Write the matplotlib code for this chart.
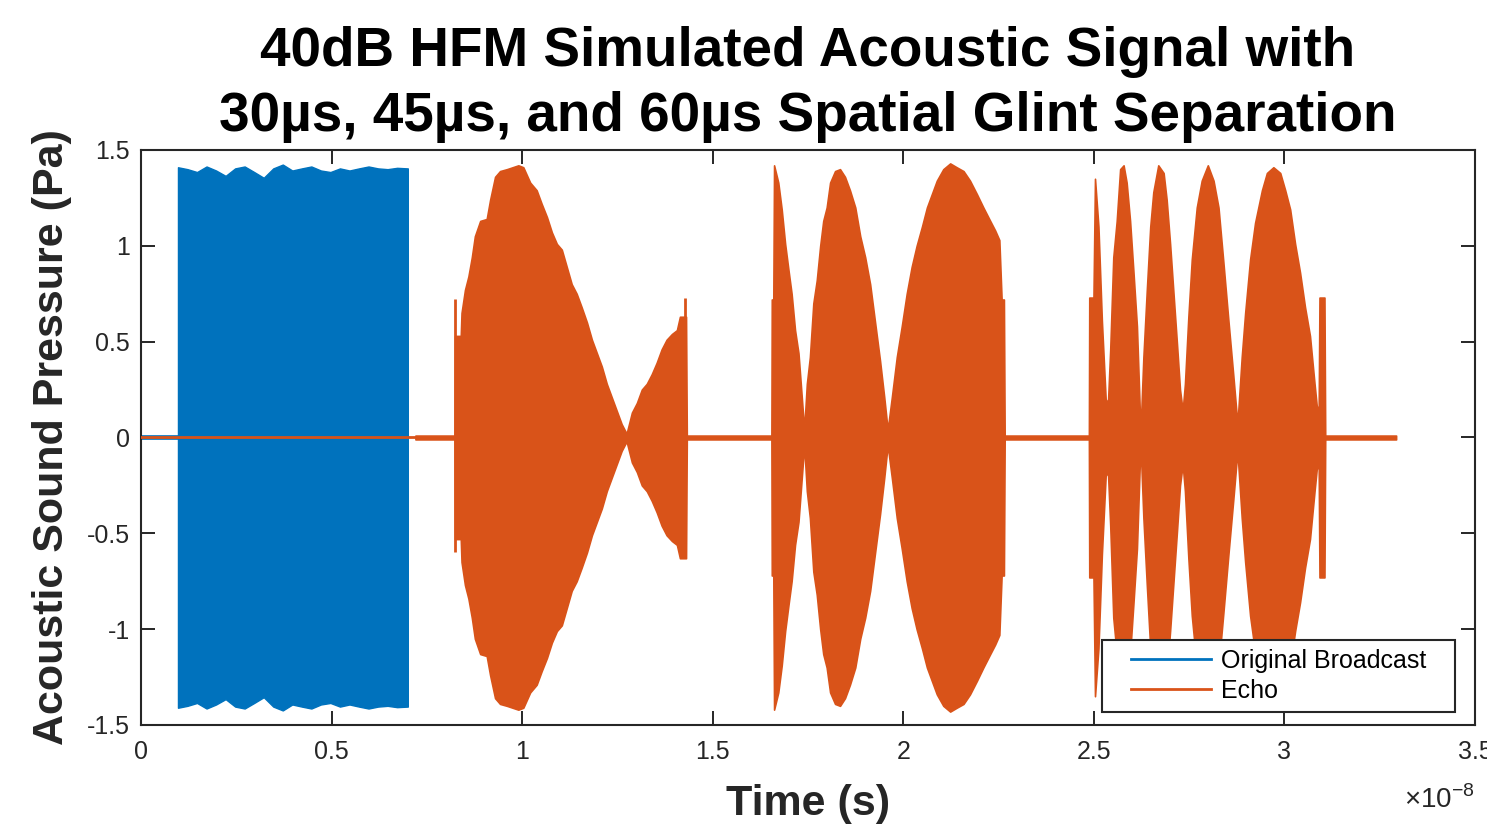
import matplotlib
matplotlib.use("Agg")
import matplotlib.pyplot as plt
from matplotlib.lines import Line2D
from matplotlib.patches import Rectangle
from matplotlib.ticker import FuncFormatter, MultipleLocator

# ── data (time in units of 1e-8 s, pressure in Pa) ────────────────────────────

T_UNIT = 1e-8
NOISE_AMP = 0.010

# original broadcast: noise floor, then the constant-amplitude HFM sweep
bcast_noise_t = [0.0, 0.097]
bcast_t = [0.097, 0.122, 0.147, 0.172, 0.197, 0.222, 0.247, 0.272, 0.297,
           0.322, 0.347, 0.372, 0.397, 0.422, 0.447, 0.472, 0.497, 0.522,
           0.547, 0.572, 0.597, 0.622, 0.647, 0.672, 0.700]
bcast_amp = [1.41, 1.40, 1.385, 1.414, 1.393, 1.365, 1.404, 1.414, 1.385,
             1.355, 1.404, 1.424, 1.393, 1.404, 1.414, 1.393, 1.385, 1.404,
             1.393, 1.404, 1.414, 1.404, 1.40, 1.407, 1.404]

# echo: zero-padded part, then envelope of the three glint groups
echo_zero_t = [0.0, 0.72]
echo_t = [
    # noise floor + group 1
    0.720, 0.823, 0.824, 0.833, 0.839, 0.841, 0.850, 0.859, 0.868, 0.876,
    0.890, 0.907, 0.916, 0.929, 0.942, 0.960, 0.990, 1.003, 1.021, 1.038,
    1.051, 1.065, 1.078, 1.091, 1.104, 1.117, 1.130, 1.143, 1.156, 1.170,
    1.183, 1.196, 1.209, 1.222, 1.235, 1.248, 1.261, 1.274, 1.288, 1.301,
    1.314, 1.327, 1.340, 1.353, 1.366, 1.379, 1.393, 1.406, 1.414, 1.425,
    1.430, 1.432,
    # noise floor + group 2
    1.654, 1.655, 1.659, 1.661, 1.672, 1.681, 1.690, 1.699, 1.707, 1.716,
    1.725, 1.734, 1.740, 1.747, 1.755, 1.764, 1.773, 1.782, 1.790, 1.799,
    1.808, 1.821, 1.834, 1.847, 1.860, 1.874, 1.887, 1.900, 1.913, 1.926,
    1.939, 1.950, 1.959, 1.970, 1.983, 1.996, 2.009, 2.022, 2.035, 2.049,
    2.062, 2.075, 2.088, 2.105, 2.123, 2.140, 2.158, 2.175, 2.193, 2.210,
    2.228, 2.241, 2.252, 2.258, 2.264, 2.266,
    # noise floor + group 3
    2.487, 2.488, 2.499, 2.503, 2.512, 2.521, 2.531, 2.537, 2.543, 2.551,
    2.560, 2.569, 2.578, 2.586, 2.595, 2.604, 2.613, 2.621, 2.624, 2.630,
    2.639, 2.648, 2.656, 2.669, 2.683, 2.691, 2.700, 2.709, 2.718, 2.726,
    2.733, 2.739, 2.748, 2.757, 2.770, 2.783, 2.799, 2.814, 2.827, 2.840,
    2.853, 2.866, 2.875, 2.878, 2.888, 2.897, 2.910, 2.923, 2.941, 2.954,
    2.971, 2.989, 3.002, 3.015, 3.028, 3.041, 3.054, 3.067, 3.079, 3.085,
    3.090, 3.092, 3.105, 3.107,
    # trailing noise floor
    3.293,
]
echo_amp = [
    0.010, 0.010, 0.53, 0.53, 0.53, 0.65, 0.77, 0.84, 0.94, 1.05,
    1.13, 1.14, 1.24, 1.36, 1.39, 1.40, 1.42, 1.41, 1.33, 1.29,
    1.22, 1.15, 1.07, 1.01, 0.98, 0.89, 0.80, 0.75, 0.68, 0.60,
    0.51, 0.44, 0.37, 0.28, 0.21, 0.14, 0.07, 0.02, 0.13, 0.18,
    0.25, 0.28, 0.33, 0.39, 0.46, 0.51, 0.54, 0.56, 0.63, 0.63,
    0.63, 0.010,
    0.010, 0.72, 0.72, 1.42, 1.33, 1.19, 1.01, 0.87, 0.75, 0.56,
    0.44, 0.20, 0.04, 0.28, 0.42, 0.70, 0.82, 1.00, 1.13, 1.20,
    1.33, 1.39, 1.40, 1.36, 1.29, 1.20, 1.05, 0.94, 0.80, 0.60,
    0.40, 0.21, 0.04, 0.21, 0.42, 0.58, 0.75, 0.89, 1.00, 1.10,
    1.20, 1.27, 1.34, 1.40, 1.43, 1.41, 1.39, 1.34, 1.27, 1.20,
    1.13, 1.08, 1.03, 0.72, 0.72, 0.010,
    0.010, 0.73, 0.73, 1.35, 1.10, 0.61, 0.20, 0.18, 0.46, 0.94,
    1.13, 1.40, 1.42, 1.33, 1.13, 0.86, 0.58, 0.11, 0.11, 0.42,
    0.77, 1.10, 1.28, 1.42, 1.38, 1.24, 1.01, 0.75, 0.49, 0.25,
    0.14, 0.28, 0.63, 0.93, 1.20, 1.34, 1.42, 1.34, 1.20, 0.91,
    0.61, 0.32, 0.11, 0.11, 0.42, 0.65, 0.93, 1.12, 1.29, 1.38,
    1.41, 1.38, 1.29, 1.19, 1.01, 0.86, 0.68, 0.53, 0.28, 0.16,
    0.16, 0.73, 0.73, 0.010,
    0.010,
]

# single-sample spikes at the edges of the first glint group
spike_t = [0.824, 1.427]
spike_lo = [-0.60, -0.62]
spike_hi = [0.72, 0.73]

labels = ["Original Broadcast", "Echo"]
title = ("40dB HFM Simulated Acoustic Signal with\n"
         "30\u00b5s, 45\u00b5s, and 60\u00b5s Spatial Glint Separation")

# ── style ─────────────────────────────────────────────────────────────────────

BLUE = "#0072BD"
ORANGE = "#D95319"
INK = "#262626"

plt.rcParams["font.family"] = ["Liberation Sans", "DejaVu Sans"]
plt.rcParams["mathtext.fontset"] = "custom"
plt.rcParams["mathtext.rm"] = "Liberation Sans"

W, H = 1487, 826
fig = plt.figure(figsize=(W / 100, H / 100), dpi=100)
ax = fig.add_axes([141 / W, 1 - 725 / H, 1334 / W, 575 / H])


def sec(ts):
    return [t * T_UNIT for t in ts]


# broadcast
ax.fill_between(sec(bcast_noise_t), -NOISE_AMP, NOISE_AMP,
                color=BLUE, lw=1.2, zorder=2)
ax.fill_between(sec(bcast_t), [-a for a in bcast_amp], bcast_amp,
                color=BLUE, lw=1.0, zorder=2)

# echo
ax.plot(sec(echo_zero_t), [0, 0], color=ORANGE, lw=2.0, zorder=3)
ax.fill_between(sec(echo_t), [-a for a in echo_amp], echo_amp,
                color=ORANGE, lw=1.2, zorder=3)
ax.vlines(sec(spike_t), spike_lo, spike_hi, color=ORANGE, lw=2.0, zorder=3)

# ── axes ──────────────────────────────────────────────────────────────────────

ax.set_xlim(0, 3.5 * T_UNIT)
ax.set_ylim(-1.5, 1.5)
ax.xaxis.set_major_locator(MultipleLocator(0.5 * T_UNIT))
ax.yaxis.set_major_locator(MultipleLocator(0.5))
ax.xaxis.set_major_formatter(FuncFormatter(lambda v, p: f"{v / T_UNIT:g}"))
ax.yaxis.set_major_formatter(FuncFormatter(lambda v, p: f"{v:g}"))

ax.tick_params(direction="in", length=10, width=1.4, top=True, right=True,
               labelsize=18, color=INK, labelcolor=INK)
ax.tick_params(axis="x", pad=11)
ax.tick_params(axis="y", pad=8)
for s in ax.spines.values():
    s.set_linewidth(1.5)
    s.set_color(INK)

ax.set_title(title, fontsize=39.5, fontweight="bold", pad=14, linespacing=1.32)
ax.set_xlabel("Time (s)", fontsize=31, fontweight="bold", color=INK)
ax.set_ylabel("Acoustic Sound Pressure (Pa)", fontsize=31, fontweight="bold",
              color=INK)
ax.xaxis.set_label_coords(0.5, -0.102)
ax.yaxis.set_label_coords(-0.052, 0.5)

ax.text(1.0, -0.13, r"$\times10^{-8}$", transform=ax.transAxes,
        ha="right", va="center", fontsize=20, color=INK)

# legend with a white box drawn over the traces
box = Rectangle((0.7204, 0.0226), 0.2646, 0.1252, transform=ax.transAxes,
                facecolor="white", edgecolor=INK, lw=1.5, zorder=5)
ax.add_patch(box)
handles = [Line2D([], [], color=BLUE, lw=2), Line2D([], [], color=ORANGE, lw=2)]
leg = ax.legend(handles, labels, loc="center", bbox_to_anchor=(0.853, 0.0852),
                frameon=False, fontsize=18, handlelength=3.2,
                handletextpad=0.4, labelspacing=0.25, borderpad=0.2)
leg.set_zorder(6)

fig.savefig("out.png", dpi=100)
